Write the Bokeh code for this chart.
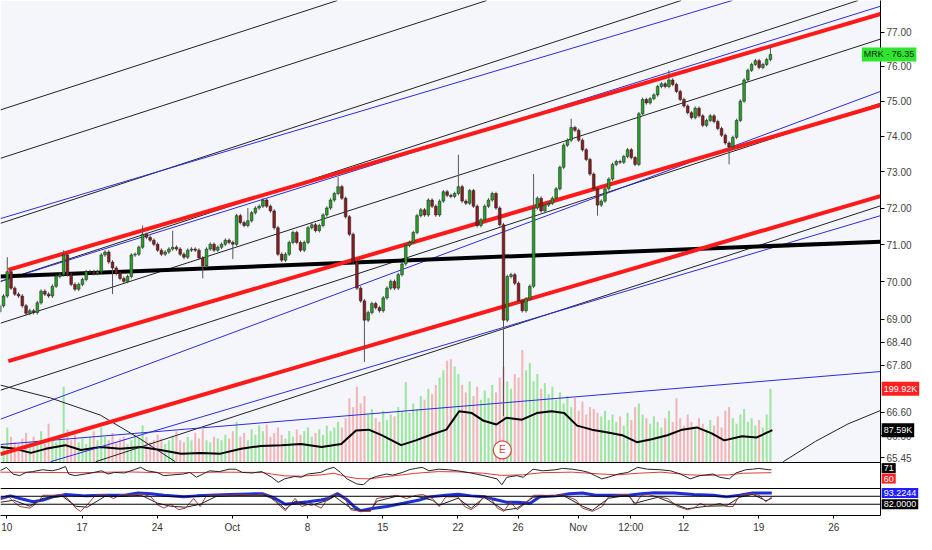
import math
from bokeh.plotting import figure
from bokeh.models import (Range1d, LinearScale, FixedTicker, PrintfTickFormatter,
                          Span, Label, BoxAnnotation, ColumnDataSource)
from bokeh.core.properties import value
from bokeh.embed import file_html
from bokeh.resources import INLINE

# x = trading days counted from Mon 10 Sep 2018 (weekends removed), 4 bars a day
bar_start = -0.47
bar_step = 0.25
first_open = 69.20

closes = [
    69.36, 69.62, 70.27, 69.83, 69.67, 69.62, 69.36, 69.16, 69.23, 69.18,
    69.44, 69.75, 69.67, 69.62, 69.88, 70.14, 70.19, 70.72, 70.19, 69.93,
    69.80, 69.93, 70.06, 70.27, 70.27, 70.22, 70.27, 70.72, 70.80, 70.53,
    70.37, 70.22, 70.09, 70.01, 70.14, 70.72, 70.74, 70.93, 71.28, 71.20,
    71.12, 71.01, 70.85, 70.74, 70.80, 70.88, 70.93, 70.88, 70.74, 70.66,
    70.85, 70.88, 70.85, 70.64, 70.43, 70.88, 71.01, 70.85, 70.93, 71.01,
    71.12, 71.06, 71.01, 71.79, 71.60, 71.52, 71.65, 71.87, 72.00, 72.05,
    72.22, 72.05, 71.92, 71.46, 70.74, 70.58, 70.74, 71.06, 71.33, 71.06,
    70.85, 71.06, 71.46, 71.54, 71.38, 71.52, 71.81, 72.00, 72.22, 72.40,
    72.59, 72.27, 71.76, 71.28, 70.53, 69.83, 69.49, 68.98, 69.18, 69.42,
    69.31, 69.23, 69.57, 69.83, 70.01, 69.83, 70.19, 70.48, 70.98, 71.06,
    71.33, 71.79, 71.95, 71.81, 72.22, 72.05, 71.81, 72.19, 72.45, 72.35,
    72.32, 72.40, 72.59, 72.19, 72.13, 72.48, 72.05, 71.52, 71.68, 72.05,
    72.22, 72.40, 72.00, 71.54, 68.98, 70.14, 70.19, 69.96, 69.49, 69.23,
    69.54, 69.88, 72.00, 72.27, 71.92, 72.08, 72.13, 72.27, 72.53, 73.13,
    73.75, 73.89, 74.25, 74.17, 73.89, 73.62, 73.35, 72.94, 72.53, 72.08,
    72.19, 72.53, 72.80, 73.21, 73.29, 73.27, 73.43, 73.62, 73.40, 73.21,
    74.64, 75.05, 74.95, 75.07, 75.18, 75.42, 75.50, 75.42, 75.61, 75.48,
    75.28, 75.05, 74.86, 74.67, 74.53, 74.80, 74.58, 74.31, 74.45, 74.58,
    74.42, 74.22, 74.03, 73.81, 73.70, 73.97, 74.45, 75.00, 75.61, 75.89,
    76.06, 76.17, 75.97, 76.06, 76.20, 76.35,
]
spike_high = {2: 70.66, 17: 70.85, 38: 71.52, 46: 71.38, 66: 72.00, 90: 72.86,
              122: 73.48, 142: 72.94, 152: 74.50, 178: 75.89, 205: 76.60}
spike_low = {30: 69.67, 54: 70.09, 62: 70.61, 97: 67.89, 134: 66.50,
             159: 71.79, 194: 73.21}
wick = 0.05

# volume in thousands
volumes = [
    60, 45, 95, 70, 55, 50, 65, 80, 55, 70,
    60, 85, 50, 105, 65, 55, 70, 205, 90, 60,
    75, 55, 65, 50, 70, 85, 60, 95, 70, 60,
    80, 55, 65, 70, 50, 60, 75, 65, 100, 70,
    55, 60, 75, 65, 50, 60, 70, 85, 60, 55,
    70, 60, 80, 65, 90, 60, 55, 70, 65, 60,
    75, 65, 85, 110, 70, 80, 60, 90, 75, 100,
    85, 103, 70, 80, 95, 75, 65, 85, 70, 90,
    75, 85, 95, 70, 80, 90, 75, 100, 85, 95,
    110, 95, 120, 174, 150, 205, 160, 180, 130, 145,
    120, 110, 140, 115, 130, 125, 150, 140, 218, 135,
    160, 145, 180, 170, 200, 185, 210, 230, 250, 276,
    280, 260, 240, 210, 190, 220, 180, 205, 170, 195,
    175, 210, 190, 230, 260, 220, 200, 240, 230, 305,
    250, 270, 220, 240, 200, 215, 185, 205, 170, 190,
    160, 180, 150, 175, 140, 165, 130, 150, 145, 135,
    125, 140, 115, 130, 110, 125, 100, 135, 115, 150,
    160, 130, 120, 105, 125, 110, 95, 120, 140, 110,
    174, 120, 100, 130, 110, 95, 120, 105, 90, 115,
    100, 125, 95, 140, 150, 120, 105, 130, 145, 110,
    120, 100, 115, 95, 130, 199.92,
]
vol_ma_x = [-0.42, 0.56, 1.6, 2.58, 3.89, 4.93, 6.24, 7.54, 8.92, 10.22,
            11.59, 12.9, 14.21, 15.58, 16.88, 18.26, 19.56, 20.93, 22.24, 23.22,
            24.07, 24.92, 26.22, 27.2, 28.25, 29.23, 30.08, 30.93, 31.71, 32.56,
            33.21, 34.26, 35.24, 36.22, 37.07, 37.92, 38.9, 39.88, 40.92, 41.9,
            42.88, 43.93, 44.91, 45.89, 46.87, 47.71, 48.89, 49.87, 50.91]
vol_ma = [42, 37, 26, 37, 47, 34, 42, 37, 42, 34,
          24, 26, 24, 37, 45, 47, 50, 42, 50, 87,
          89, 74, 47, 60, 76, 89, 139, 134, 113, 103,
          121, 116, 134, 139, 134, 100, 89, 82, 74, 55,
          63, 74, 89, 95, 79, 60, 71, 68, 87.59]
earnings_x = 32.95

# drawn lines: (x0, price0, x1, price1)
red_lines = [(0.10, 70.32, 58.1, 77.54), (0.10, 67.91, 58.1, 74.89),
             (-0.42, 65.54, 58.1, 72.33)]
black_thick = [(-0.42, 70.14, 58.1, 71.08)]
black_thin = [(-0.42, 74.75, 21.98, 77.94), (-0.42, 73.38, 31.91, 77.94),
              (-0.42, 71.58, 44.84, 77.94), (-0.42, 70.01, 56.6, 77.94),
              (-0.42, 68.90, 58.1, 76.80), (-0.42, 67.16, 58.1, 74.94),
              (5.91, 65.35, 58.1, 72.06)]
blue_thin = [(-0.42, 71.71, 48.24, 77.94), (-0.42, 70.01, 58.1, 77.77),
             (-0.42, 66.42, 58.1, 75.28), (-0.42, 65.78, 58.1, 67.64),
             (2.91, 65.35, 58.1, 71.79)]
arc_left_x = [-0.42, 2.91, 6.24, 8.92, 11.2]
arc_left_p = [67.29, 66.96, 66.52, 65.91, 65.35]
arc_right_x = [51.63, 53.78, 55.94, 58.1]
arc_right_p = [65.35, 65.86, 66.30, 66.64]

# oscillator pane
p2_black_x = [-0.46, -0.02, 0.41, 0.85, 1.28, 1.72, 2.37, 3.03, 3.46, 3.9,
              4.11, 4.55, 5.2, 5.64, 6.29, 6.73, 7.16, 7.82, 8.47, 8.9,
              9.34, 9.99, 10.43, 10.86, 11.74, 12.17, 12.61, 13.04, 13.48, 14.13,
              14.78, 15.22, 15.66, 16.31, 16.96, 17.62, 18.05, 18.48, 19.14, 19.58,
              20.01, 20.88, 21.31, 21.75, 22.19, 22.62, 23.27, 23.71, 24.15, 24.58,
              25.23, 25.67, 26.32, 26.76, 27.19, 27.63, 28.07, 28.72, 29.37, 29.98,
              30.85, 31.72, 32.16, 32.59, 32.92, 33.25, 33.9, 34.34, 34.99, 35.64,
              36.51, 36.95, 37.6, 38.26, 38.69, 39.13, 39.56, 39.99, 40.65, 41.3,
              41.95, 42.61, 43.48, 44.13, 44.79, 45.44, 46.09, 46.96, 47.4, 48.05,
              48.49, 49.14, 49.58, 50.01, 50.67, 50.84]
p2_black = [67, 80, 55, 49, 61, 64, 71, 67, 73, 83,
            55, 49, 55, 59, 67, 55, 61, 59, 71, 80,
            67, 61, 49, 51, 55, 61, 43, 55, 67, 64,
            73, 73, 61, 59, 64, 43, 24, 37, 46, 43,
            55, 61, 73, 80, 61, 37, 18, 15, 37, 46,
            55, 51, 61, 71, 76, 80, 67, 73, 71, 67,
            59, 49, 43, 37, 15, 43, 49, 43, 73, 67,
            71, 76, 73, 67, 61, 49, 37, 43, 55, 61,
            80, 73, 71, 67, 55, 37, 49, 55, 43, 37,
            59, 71, 73, 76, 71, 71]
p2_red_x = [-0.46, 2.0, 5.0, 8.0, 11.0, 14.0, 16.96, 17.62, 18.5, 19.6,
            20.9, 21.75, 22.6, 23.3, 24.15, 25.2, 26.3, 27.2, 28.7, 29.98,
            31.7, 32.9, 34.3, 35.6, 37.6, 39.5, 40.6, 42.0, 43.5, 45.4,
            46.5, 48.0, 49.0, 50.84]
p2_red = [62, 61, 60, 63, 59, 62, 61, 55, 48, 47,
          52, 58, 45, 38, 37, 45, 52, 58, 64, 63,
          58, 50, 52, 60, 62, 55, 52, 58, 62, 52,
          50, 52, 58, 60]

# stochastic pane
p3_levels = [90, 82]
p3_blue_x = [-0.42, 0.23, 0.88, 1.75, 2.41, 3.06, 3.93, 5.24, 6.54, 7.85,
             8.72, 9.59, 10.46, 11.77, 12.64, 13.51, 14.82, 16.12, 16.99, 17.86,
             18.52, 19.17, 20.04, 20.91, 21.35, 22.0, 22.65, 23.09, 23.52, 24.18,
             25.27, 26.36, 27.44, 28.1, 29.19, 30.01, 30.88, 31.75, 32.62, 33.28,
             33.93, 34.8, 35.45, 36.54, 37.41, 38.28, 39.15, 40.02, 41.33, 42.2,
             43.07, 44.38, 45.69, 46.99, 47.86, 48.73, 49.6, 50.87]
p3_blue = [87.8, 90.4, 87.8, 84.5, 86.2, 89.4, 91.7, 90.4, 91.0, 91.0,
           93.3, 92.6, 91.0, 89.4, 90.4, 91.0, 91.7, 92.3, 92.6, 87.8,
           82.0, 82.9, 84.5, 86.2, 87.8, 92.6, 86.2, 79.7, 75.5, 77.4,
           79.7, 82.9, 86.2, 89.4, 91.0, 92.0, 90.4, 89.4, 86.2, 83.9,
           83.9, 82.9, 89.4, 90.4, 92.6, 93.3, 91.0, 91.0, 91.0, 92.6,
           93.6, 93.3, 91.7, 91.0, 89.4, 91.0, 93.3, 93.2244]
p3_brown_x = [-0.42, 0.01, 0.45, 0.88, 1.53, 1.97, 2.41, 3.06, 3.71, 4.15,
              4.58, 4.91, 5.34, 5.89, 6.54, 7.09, 7.63, 8.28, 8.94, 9.59,
              10.03, 10.46, 10.9, 11.44, 11.88, 12.42, 12.86, 13.29, 13.94, 14.82,
              15.69, 16.56, 17.21, 17.86, 18.52, 19.17, 19.61, 20.26, 20.91, 21.35,
              21.78, 22.44, 22.87, 23.52, 24.18, 24.61, 25.27, 25.92, 26.57, 27.23,
              27.66, 28.31, 28.75, 29.19, 30.01,
              30.45, 30.88, 31.32, 31.75, 32.19, 32.62, 33.06, 33.49, 33.93, 34.36,
              35.02, 35.67, 36.32, 36.98, 37.85, 38.28, 38.94, 39.59, 40.02, 40.68,
              41.33, 41.77, 42.2, 42.64, 43.29, 43.94, 44.6, 45.25, 45.69, 46.12,
              46.56, 46.99, 47.43, 47.86, 48.3, 48.73, 49.17, 49.6, 50.04, 50.48,
              50.87]
p3_brown = [86.2, 91.0, 84.5, 79.7, 78.1, 82.9, 91.0, 91.0, 91.7, 86.2,
            78.1, 74.8, 81.3, 91.0, 91.7, 87.8, 91.7, 91.0, 92.6, 89.4,
            81.3, 78.1, 82.0, 76.5, 78.1, 87.8, 79.7, 91.0, 91.0, 91.0,
            91.7, 91.0, 92.6, 84.5, 75.5, 87.8, 79.7, 82.9, 78.1, 87.8,
            91.7, 89.4, 76.5, 74.8, 74.8, 87.8, 89.4, 91.0, 87.8, 91.0,
            91.7, 87.8, 79.7, 89.4, 89.4,
            79.7, 76.5, 81.3, 91.0, 87.8, 78.1, 74.8, 84.5, 76.5, 81.3,
            91.0, 91.0, 90.4, 91.7, 86.2, 78.1, 74.8, 79.7, 89.4, 91.7,
            91.7, 81.3, 91.0, 91.7, 89.4, 87.8, 79.7, 76.5, 78.1, 82.9,
            79.7, 81.3, 82.9, 79.7, 79.7, 91.0, 91.7, 92.6, 91.0, 84.5,
            89.4]
p3_black_x = [-0.42, 0.45, 1.53, 2.41, 3.71, 4.58, 5.34, 6.54, 7.63, 8.94,
              10.03, 10.9, 11.88, 12.86, 13.94, 15.69, 17.21, 17.86, 18.52, 19.17,
              20.26, 21.35, 21.78, 22.87, 23.52, 24.18, 24.61, 25.92, 27.23, 28.31,
              28.75, 30.01, 30.88, 31.75, 33.06, 33.93, 35.02, 36.98, 38.28, 38.94,
              40.02, 41.33, 41.77, 43.29, 44.6, 45.25, 46.56, 47.86, 48.73, 49.6,
              50.48, 50.87]
p3_black = [84, 86, 80, 88, 90, 80, 79, 90, 90, 91,
            83, 80, 79, 82, 90, 91, 91, 86, 77, 85,
            81, 86, 90, 78, 75.5, 75.5, 85, 90, 90, 86,
            81, 88, 78, 89, 76, 78, 89, 91, 80, 76,
            88, 91, 83, 89, 81, 77.5, 80, 80.5, 89, 92,
            85.5, 88]

price_ticks = [77, 76, 75, 74, 73, 72, 71, 70, 69, 68.4, 67.8, 66.6, 66, 65.45]
x_ticks = [0, 5, 10, 15, 20, 25, 30, 34, 38, 41.5, 45, 50, 55]
x_labels = ["10", "17", "24", "Oct", "8", "15", "22", "26", "Nov", "12:00", "12", "19", "26"]

# pane geometry (pixels) and value spans of each pane
MAIN_H, P2_H, P3_H = 462, 26, 27
price_top, price_bot = 77.94, 65.33
vol_top = 1252.0
p2_lo, p2_hi = 1.0, 98.0
p3_lo, p3_hi = 70.7, 97.8
FONT = "Liberation Sans"

lr = math.log(price_top / price_bot)
price_start = price_bot * math.exp(-lr * (P2_H + P3_H) / MAIN_H)
per2 = (p2_hi - p2_lo) / P2_H
per3 = (p3_hi - p3_lo) / P3_H

p = figure(frame_width=880, frame_height=MAIN_H + P2_H + P3_H,
           x_range=Range1d(-0.42, 58.1), y_range=Range1d(price_start, price_top),
           y_axis_type="log", y_axis_location="right",
           toolbar_location=None, output_backend="svg",
           min_border_left=0, min_border_top=0, min_border_right=36, min_border_bottom=0)
p.extra_y_ranges = {
    "vol": Range1d(-vol_top * (P2_H + P3_H) / MAIN_H, vol_top),
    "p2": Range1d(p2_lo - P3_H * per2, p2_hi + MAIN_H * per2),
    "p3": Range1d(p3_lo, p3_hi + (MAIN_H + P2_H) * per3),
}
p.extra_y_scales = {"vol": LinearScale(), "p2": LinearScale(), "p3": LinearScale()}
p.background_fill_color = "white"
p.border_fill_color = "white"
p.outline_line_color = None
p.grid.visible = False

# main pane background
p.add_layout(BoxAnnotation(bottom=price_bot, fill_color="#f5f6fc", fill_alpha=1,
                           line_color=None, level="underlay"))

# candles
n = len(closes)
xs = [bar_start + bar_step * i for i in range(n)]
opens = [first_open] + closes[:-1]
highs = [spike_high.get(i, max(o, c) + wick) for i, (o, c) in enumerate(zip(opens, closes))]
lows = [spike_low.get(i, min(o, c) - wick) for i, (o, c) in enumerate(zip(opens, closes))]
up = [c >= o for o, c in zip(opens, closes)]
src = ColumnDataSource(dict(
    x=xs, open=opens, close=closes, high=highs, low=lows, volume=volumes,
    body=["#26a226" if u else "#8c1c1c" for u in up],
    vcol=["#7fe07f" if u else "#f2a0a0" for u in up],
))

# volume
p.vbar(x="x", top="volume", bottom=0, width=bar_step * 0.55, source=src,
       fill_color="vcol", line_color=None, fill_alpha=0.75, y_range_name="vol")
p.line(vol_ma_x, vol_ma, line_color="black", line_width=2, y_range_name="vol")
p.scatter([earnings_x], [34], size=18, fill_color="white", line_color="#e04040",
          line_width=1.2, y_range_name="vol")
p.text([earnings_x], [34], text=["E"], text_color="#e04040", text_font_size="10px",
       text_align="center", text_baseline="middle", text_font=value(FONT),
       y_range_name="vol")

# drawn lines
def draw_lines(lines, color, width):
    p.segment(x0=[l[0] for l in lines], y0=[l[1] for l in lines],
              x1=[l[2] for l in lines], y1=[l[3] for l in lines],
              line_color=color, line_width=width)

draw_lines(black_thin, "#222222", 1)
draw_lines(blue_thin, "#2b2bdd", 1)
p.line(arc_left_x, arc_left_p, line_color="#222222", line_width=1)
p.line(arc_right_x, arc_right_p, line_color="#222222", line_width=1)
draw_lines(black_thick, "black", 4)
draw_lines(red_lines, "#ff1a1a", 4)

p.segment(x0="x", y0="high", x1="x", y1="low", source=src, line_color="#555555", line_width=1)
p.vbar(x="x", top="open", bottom="close", width=bar_step * 0.72, source=src,
       fill_color="body", line_color="#1a1a1a", line_width=0.5)

# oscillator pane
p.line(p2_red_x, p2_red, line_color="#e03a3a", line_width=1, y_range_name="p2")
p.line(p2_black_x, p2_black, line_color="#222222", line_width=1, y_range_name="p2")

# stochastic pane
for lv in p3_levels:
    p.add_layout(Span(location=lv, dimension="width", line_color="black",
                      line_width=1, y_range_name="p3"))
p.line(p3_blue_x, p3_blue, line_color="#1f2fd8", line_width=3, y_range_name="p3")
p.line(p3_black_x, p3_black, line_color="#222222", line_width=1, y_range_name="p3")
p.line(p3_brown_x, p3_brown, line_color="#9a4040", line_width=1, y_range_name="p3")

# pane borders
p.add_layout(Span(location=price_bot, dimension="width", line_color="black", line_width=1))
p.add_layout(Span(location=p3_hi, dimension="width", line_color="black", line_width=1,
                  y_range_name="p3"))

# axes
p.yaxis.ticker = FixedTicker(ticks=price_ticks)
p.yaxis.formatter = PrintfTickFormatter(format="%.2f")
p.yaxis.major_label_text_font_size = "10px"
p.yaxis.major_label_text_font = FONT
p.yaxis.major_label_text_color = "#444444"
p.yaxis.major_tick_in = 0
p.yaxis.major_tick_out = 4
p.yaxis.minor_tick_out = 0
p.yaxis.major_label_standoff = 2
p.yaxis.axis_line_color = "black"

p.xaxis.ticker = FixedTicker(ticks=x_ticks)
p.xaxis.major_label_overrides = dict(zip(x_ticks, x_labels))
p.xaxis.major_label_text_font_size = "10px"
p.xaxis.major_label_text_font = FONT
p.xaxis.major_label_text_color = "#333333"
p.xaxis.major_tick_in = 0
p.xaxis.major_tick_out = 3
p.xaxis.minor_tick_out = 0
p.xaxis.major_label_standoff = 3
p.xaxis.axis_line_color = "black"

# last-value boxes on the price scale (side panel, so they are not clipped to the frame)
x_box = 58.18
def box(x, y, text, bg, fg="white", rng="default"):
    p.add_layout(Label(x=x, y=y, text=text, y_range_name=rng, text_font_size="9px",
                       text_font=FONT, text_color=fg, text_baseline="middle",
                       text_align="left", background_fill_color=bg,
                       background_fill_alpha=1, padding=2), "right")

box(56.86, closes[-1], "MRK - %.2f" % closes[-1], "#2ee62e", fg="#1a1a1a")
box(x_box, volumes[-1], "%.2fK" % volumes[-1], "#ff2020", rng="vol")
box(x_box, vol_ma[-1], "%.2fK" % vol_ma[-1], "black", rng="vol")
box(x_box, p2_black[-1] + 6, "%d" % p2_black[-1], "black", rng="p2")
box(x_box, p2_red[-1] - 22, "%d" % p2_red[-1], "#ff2020", rng="p2")
box(x_box, p3_blue[-1], "%.4f" % p3_blue[-1], "#1f1fff", rng="p3")
box(x_box, p3_levels[1], "%.4f" % p3_levels[1], "black", rng="p3")

open("out.html", "w").write(file_html(p, INLINE))
